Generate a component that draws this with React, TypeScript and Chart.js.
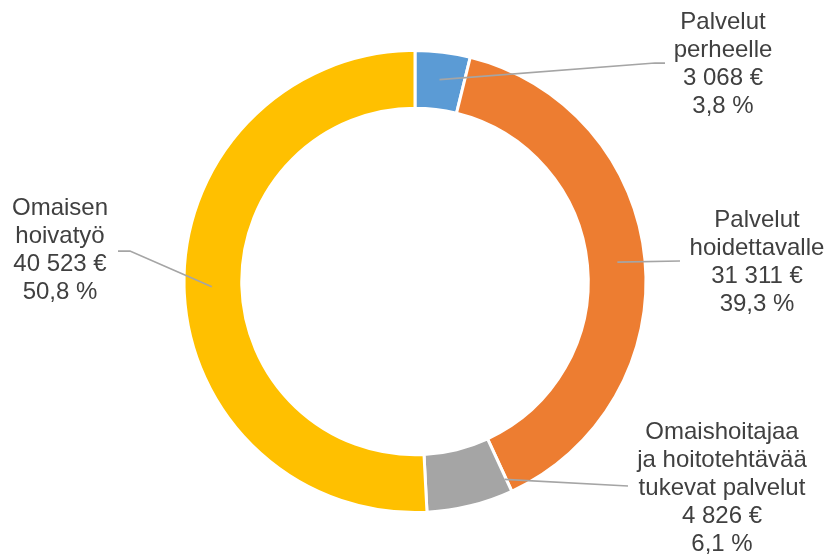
import React, { useEffect, useRef } from "react";
import { Chart, registerables } from "chart.js";

Chart.register(...registerables);

const categories = [
  ["Palvelut", "perheelle"],
  ["Palvelut", "hoidettavalle"],
  ["Omaishoitajaa", "ja hoitotehtävää", "tukevat palvelut"],
  ["Omaisen", "hoivatyö"],
];
const values = [3068, 31311, 4826, 40523];
const valueLabels = ["3 068 €", "31 311 €", "4 826 €", "40 523 €"];
const percentLabels = ["3,8 %", "39,3 %", "6,1 %", "50,8 %"];
const colors = ["#5B9BD5", "#ED7D31", "#A5A5A5", "#FFC000"];

// label layout (positions only)
const labelLayout = [
  { cx: 723, top: 22, t: 0.5, r: 0.88, path: [[655, 63], [665, 63]] },
  { cx: 757, top: 220, t: 0.5, r: 0.88, path: [[680, 261]] },
  { cx: 722, top: 432, t: 0.02, r: 0.94, path: [[628, 486]] },
  { cx: 60, top: 208, t: 0.5, r: 0.88, path: [[130, 251], [118, 251]] },
];

const labelPlugin = {
  id: "leaderLabels",
  afterDraw(chart: any) {
    const ctx = chart.ctx;
    const meta = chart.getDatasetMeta(0);
    ctx.save();
    meta.data.forEach((arc: any, i: number) => {
      const L = labelLayout[i];
      const { startAngle, endAngle, outerRadius, x, y } = arc.getProps(
        ["startAngle", "endAngle", "outerRadius", "x", "y"],
        true
      );
      const a = startAngle + L.t * (endAngle - startAngle);
      const rr = outerRadius * L.r;
      ctx.beginPath();
      ctx.moveTo(x + rr * Math.cos(a), y + rr * Math.sin(a));
      L.path.forEach((p) => ctx.lineTo(p[0], p[1]));
      ctx.strokeStyle = "#A5A5A5";
      ctx.lineWidth = 1.75;
      ctx.stroke();

      const lines = [...categories[i], valueLabels[i], percentLabels[i]];
      ctx.fillStyle = "#404040";
      ctx.font = '24px "Liberation Sans", Arial, sans-serif';
      ctx.textAlign = "center";
      ctx.textBaseline = "middle";
      lines.forEach((s, k) => ctx.fillText(s, L.cx, L.top + k * 28));
    });
    ctx.restore();
  },
};

export default function App() {
  const ref = useRef<HTMLCanvasElement>(null);
  useEffect(() => {
    document.body.style.margin = "0";
    const chart = new Chart(ref.current as HTMLCanvasElement, {
      type: "doughnut",
      data: {
        labels: categories.map((c) => c.join(" ")),
        datasets: [
          {
            data: values,
            backgroundColor: colors,
            borderColor: "#FFFFFF",
            borderWidth: 3,
          },
        ],
      },
      options: {
        responsive: false,
        animation: false,
        devicePixelRatio: 1,
        cutout: "75%",
        layout: { padding: { top: 49, bottom: 42, left: 1, right: 0 } },
        plugins: {
          legend: { display: false },
          tooltip: { enabled: false },
        },
      },
      plugins: [labelPlugin],
    });
    return () => chart.destroy();
  }, []);
  return (
    <div style={{ position: "absolute", left: 0, top: 0, width: 829, height: 556, background: "#fff" }}>
      <canvas ref={ref} width={829} height={556} />
    </div>
  );
}
